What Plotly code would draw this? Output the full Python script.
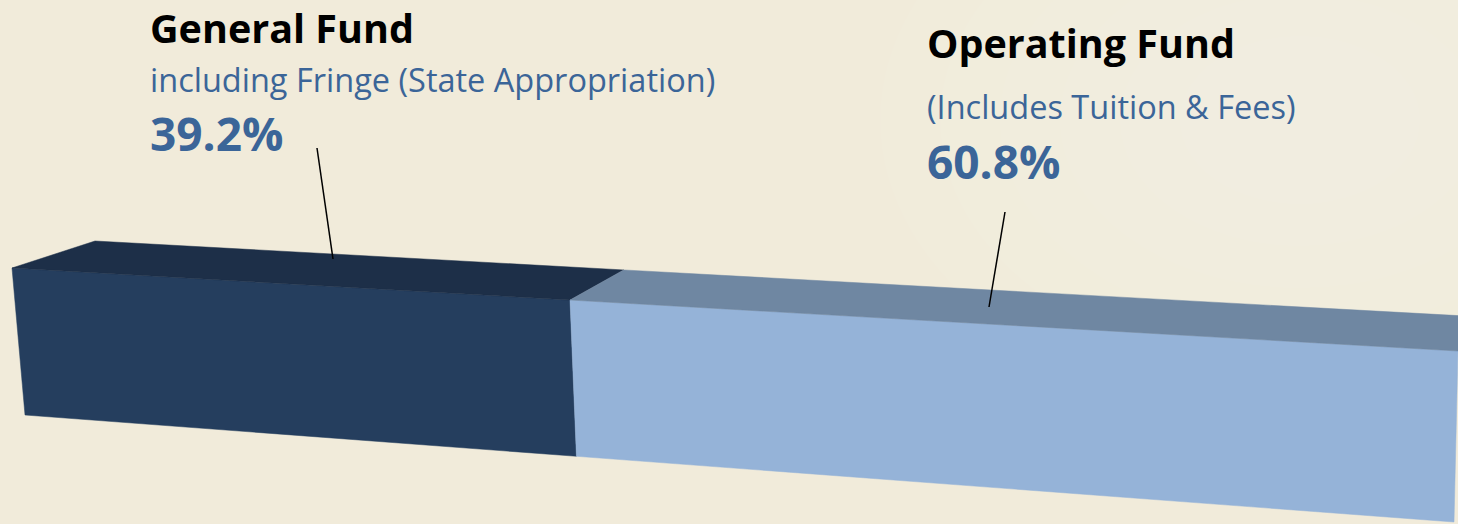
"""Perspective stacked bar: General Fund vs Operating Fund share."""

import plotly.graph_objects as go

# ---------------------------------------------------------------------------
# Data
# ---------------------------------------------------------------------------
funds = ["General Fund", "Operating Fund"]
fund_notes = ["including Fringe (State Appropriation)", "(Includes Tuition & Fees)"]
shares = [39.2, 60.8]

# ---------------------------------------------------------------------------
# Palette / geometry
# ---------------------------------------------------------------------------
_P = {
    "bg": "#f1ebda",
    "title": "#000000",
    "blue_text": "#3b6598",
    "dark_front": "#253e5e",
    "dark_top": "#1d2f48",
    "light_front": "#95b3d8",
    "light_top": "#6f87a2",
}
FACE_COLORS = [
    (_P["dark_front"], _P["dark_top"]),
    (_P["light_front"], _P["light_top"]),
]

W, H = 1458, 524
FONT = "'Open Sans', 'Noto Sans', sans-serif"

# bar edges in the picture plane (left end, right end)
FRONT_TOP = ((12, 268), (1458, 351))
FRONT_BOTTOM = ((25, 415), (1454, 522))
BACK_TOP = ((95, 241), (1465, 316))
PERSPECTIVE_K = 1.026   # >1 -> far (left) end is foreshortened


def _t(u):
    return u / (u + PERSPECTIVE_K * (1 - u))


def _on(edge, u):
    (x0, y0), (x1, y1) = edge
    t = _t(u)
    return x0 + (x1 - x0) * t, y0 + (y1 - y0) * t


def _poly(pts):
    xs = [p[0] for p in pts] + [pts[0][0]]
    ys = [p[1] for p in pts] + [pts[0][1]]
    return xs, ys


fig = go.Figure()

# soft light glow in the upper right of the backdrop
for r in (420, 360, 300, 240, 180, 120):
    fig.add_shape(type="circle", xref="x", yref="y",
                  x0=1300 - r, x1=1300 + r, y0=120 - r * 0.7, y1=120 + r * 0.7,
                  fillcolor="rgba(255,255,255,0.05)", line_width=0, layer="below")

total = sum(shares)
start = 0.0
for i, share in enumerate(shares):
    u0, u1 = start / total, (start + share) / total
    start += share
    front_c, top_c = FACE_COLORS[i % len(FACE_COLORS)]

    front = [_on(FRONT_TOP, u0), _on(FRONT_TOP, u1),
             _on(FRONT_BOTTOM, u1), _on(FRONT_BOTTOM, u0)]
    top = [_on(FRONT_TOP, u0), _on(BACK_TOP, u0),
           _on(BACK_TOP, u1), _on(FRONT_TOP, u1)]

    for pts, col in ((front, front_c), (top, top_c)):
        xs, ys = _poly(pts)
        fig.add_trace(go.Scatter(
            x=xs, y=ys, mode="lines", fill="toself",
            fillcolor=col, line=dict(color=col, width=0.5),
            hoverinfo="skip", showlegend=False,
        ))

# ---------------------------------------------------------------------------
# Labels
# ---------------------------------------------------------------------------
label_pos = [
    dict(x=148, title_y=28, note_y=79, pct_y=133),
    dict(x=925, title_y=43, note_y=106, pct_y=161),
]
for name, note, share, pos in zip(funds, fund_notes, shares, label_pos):
    for text, y, size, color in (
        (f"<b>{name}</b>", pos["title_y"], 39.5, _P["title"]),
        (note, pos["note_y"], 32.5, _P["blue_text"]),
        (f"<b>{share:.1f}%</b>", pos["pct_y"], 46, _P["blue_text"]),
    ):
        fig.add_annotation(
            x=pos["x"], y=y, xref="x", yref="y", text=text,
            showarrow=False, xanchor="left", yanchor="middle",
            font=dict(family=FONT, size=size, color=color),
        )

# leader lines
for (x0, y0, x1, y1) in ((317, 148, 333, 259), (1005, 212, 989, 307)):
    fig.add_shape(type="line", x0=x0, y0=y0, x1=x1, y1=y1,
                  xref="x", yref="y", line=dict(color="#000000", width=1.5))

fig.update_layout(
    width=W, height=H,
    margin=dict(l=0, r=0, t=0, b=0),
    paper_bgcolor=_P["bg"], plot_bgcolor=_P["bg"],
    xaxis=dict(range=[0, W], visible=False, fixedrange=True),
    yaxis=dict(range=[H, 0], visible=False, fixedrange=True),
    showlegend=False,
)

fig.write_html("out.html", config={"displayModeBar": False},
               post_script="document.body.style.margin='0';")
